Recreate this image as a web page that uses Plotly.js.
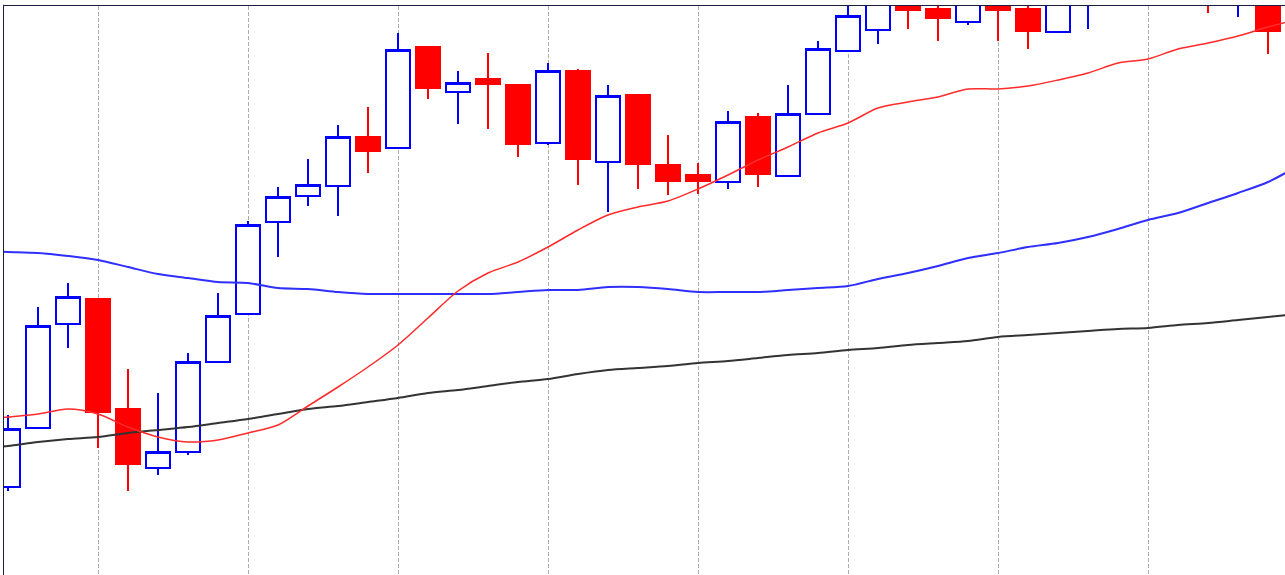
<!DOCTYPE html>
<html>
<head>
<meta charset="utf-8">
<script src="https://cdn.plot.ly/plotly-3.0.1.min.js"></script>
<style>
html, body { margin: 0; padding: 0; background: #ffffff; overflow: hidden; }
#chart { width: 1300px; height: 600px; }
</style>
</head>
<body>
<div id="chart"></div>
<script>
// Candle indices (bar number)
var barIndex = [0,1,2,3,4,5,6,7,8,9,10,11,12,13,14,15,16,17,18,19,20,21,22,23,24,25,26,27,28,29,30,31,32,33,34,35,36,37,38,39,40,41,42,43];
var openVals  = [131.13,131.72,132.76,133.01,131.91,131.32,131.48,132.38,132.86,133.78,134.04,134.14,134.63,134.52,135.53,135.08,135.21,135.15,134.57,135.29,134.38,135.05,134.35,134.25,134.18,134.83,134.24,134.86,135.49,135.70,136.08,135.91,135.78,136.06,135.91,135.68,136.02,136.30,136.10,136.35,136.55,136.18,136.40,135.69];
var highVals  = [131.85,132.93,133.17,133.01,132.31,132.07,132.47,133.07,133.79,134.13,134.41,134.75,134.93,135.67,135.53,135.29,135.47,135.15,135.37,135.31,135.15,135.05,134.65,134.37,134.89,134.87,135.15,135.59,136.05,136.15,136.20,136.10,136.12,136.18,136.12,136.20,136.35,136.40,136.50,136.65,136.65,136.55,136.50,136.30];
var lowVals   = [131.09,131.71,132.52,131.52,131.09,131.25,131.45,132.38,132.86,133.43,133.94,133.84,134.27,134.52,135.01,134.76,134.71,134.43,134.55,134.15,133.88,134.11,134.05,134.06,134.11,134.13,134.24,134.86,135.49,135.56,135.71,135.59,135.75,135.59,135.51,135.68,135.71,135.98,136.00,136.05,135.87,135.83,135.46,135.67];
var closeVals = [131.71,132.74,133.03,131.88,131.36,131.48,132.38,132.84,133.75,134.03,134.15,134.63,134.49,135.50,135.12,135.17,135.16,134.56,135.29,134.41,135.04,134.36,134.19,134.19,134.78,134.26,134.86,135.51,135.84,136.05,135.90,135.82,136.06,135.90,135.69,136.04,136.25,136.12,136.40,136.55,136.20,136.45,135.69,136.20];

// Moving averages (bar -1 .. 43)
var maIndex = [-1,0,1,2,3,4,5,6,7,8,9,10,11,12,13,14,15,16,17,18,19,20,21,22,23,24,25,26,27,28,29,30,31,32,33,34,35,36,37,38,39,40,41,42,43];
var maFast = [131.80,131.83,131.86,131.91,131.86,131.73,131.63,131.58,131.60,131.67,131.75,131.94,132.13,132.33,132.55,132.82,133.09,133.27,133.38,133.53,133.70,133.85,133.93,133.99,134.11,134.25,134.40,134.53,134.67,134.77,134.92,134.98,135.03,135.11,135.11,135.14,135.20,135.27,135.37,135.41,135.51,135.57,135.64,135.73,135.81];
var maMid  = [133.49,133.48,133.47,133.44,133.40,133.33,133.26,133.22,133.18,133.17,133.12,133.11,133.08,133.06,133.06,133.06,133.06,133.06,133.08,133.10,133.10,133.13,133.13,133.11,133.08,133.08,133.08,133.10,133.12,133.14,133.21,133.27,133.34,133.42,133.47,133.53,133.57,133.63,133.71,133.80,133.87,133.97,134.07,134.18,134.34];
var maSlow = [131.51,131.54,131.58,131.61,131.63,131.67,131.70,131.73,131.77,131.81,131.86,131.91,131.94,131.98,132.02,132.07,132.10,132.14,132.18,132.21,132.26,132.30,132.32,132.34,132.37,132.39,132.42,132.45,132.47,132.50,132.52,132.55,132.57,132.59,132.63,132.65,132.67,132.69,132.71,132.72,132.75,132.77,132.80,132.83,132.86];

var gridTicks = [3,8,13,18,23,28,33,38,43];

var traces = [
  {
    type: 'candlestick',
    x: barIndex, open: openVals, high: highVals, low: lowVals, close: closeVals,
    increasing: { line: { color: '#0000ff', width: 2 }, fillcolor: '#ffffff' },
    decreasing: { line: { color: '#ff0000', width: 2 }, fillcolor: '#ff0000' },
    whiskerwidth: 0,
    hoverinfo: 'skip',
    showlegend: false
  },
  { type: 'scatter', mode: 'lines', x: maIndex, y: maSlow,
    line: { color: '#333333', width: 2, shape: 'spline', smoothing: 0.8 }, hoverinfo: 'skip', showlegend: false },
  { type: 'scatter', mode: 'lines', x: maIndex, y: maMid,
    line: { color: '#2f2fff', width: 2, shape: 'spline', smoothing: 0.8 }, hoverinfo: 'skip', showlegend: false },
  { type: 'scatter', mode: 'lines', x: maIndex, y: maFast,
    line: { color: '#ff2a2a', width: 1.5, shape: 'spline', smoothing: 0.8 }, hoverinfo: 'skip', showlegend: false }
];

var layout = {
  width: 1300, height: 600,
  margin: { l: 3, r: 0, t: 6, b: 0, pad: 0 },
  paper_bgcolor: '#ffffff', plot_bgcolor: '#ffffff',
  showlegend: false,
  boxgap: 0.2, boxgroupgap: 0,
  xaxis: {
    range: [-1/6, 43 + 1/15],
    tickvals: gridTicks,
    showticklabels: false, ticks: '',
    showgrid: true, gridcolor: '#adadad', gridwidth: 1, griddash: '4px,2px',
    zeroline: false, showline: false,
    rangeslider: { visible: false },
    fixedrange: true
  },
  yaxis: {
    range: [130.00, 135.94],
    showticklabels: false, ticks: '',
    showgrid: false, zeroline: false, showline: false,
    fixedrange: true
  },
  shapes: [
    { type: 'line', xref: 'paper', yref: 'paper', x0: 0, x1: 1, y0: 1 + 0.5/594, y1: 1 + 0.5/594,
      line: { color: '#1c1c3c', width: 1 } },
    { type: 'line', xref: 'paper', yref: 'paper', x0: 0.5/1297, x1: 0.5/1297, y0: 0, y1: 1.002,
      line: { color: '#1c1c3c', width: 1 } }
  ]
};

Plotly.newPlot('chart', traces, layout, { staticPlot: true, displayModeBar: false });
</script>
</body>
</html>
